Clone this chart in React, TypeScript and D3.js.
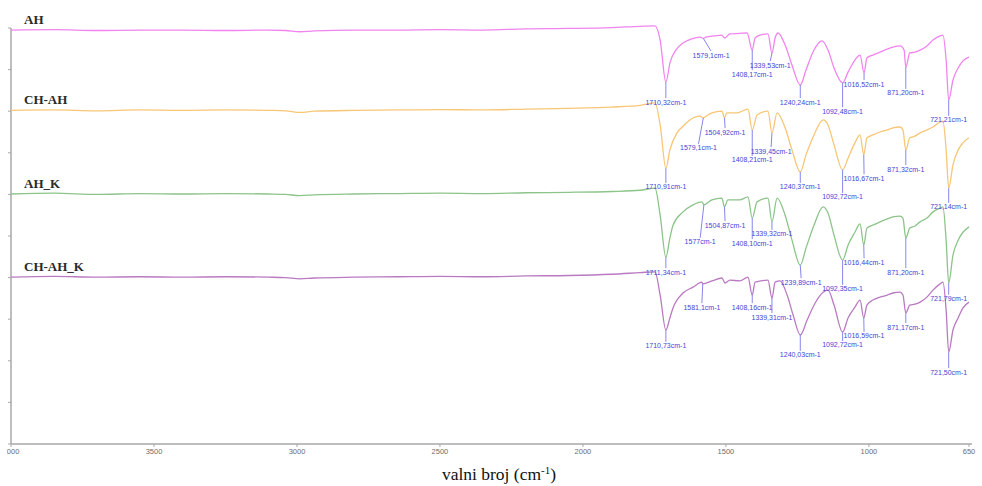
import React from 'react';
import * as d3 from 'd3';

type Pt = [number, number];
type Ann = { text: string; wn: number; labelWn: number; labelVal: number };

const seriesNames = ['AH', 'CH-AH', 'AH_K', 'CH-AH_K'];
const seriesColors = ['#f184ef', '#f7c676', '#8cc489', '#b97ac2'];
const xTickValues = [4000, 3500, 3000, 2500, 2000, 1500, 1000, 650];
const yTickValues = [0, 10, 20, 30, 40, 50, 60, 70, 80, 90, 100];

const ahData: Pt[] = [
  [4000, 99.5], [3850, 99.6], [3700, 99.4], [3550, 99.5], [3400, 99.5], [3250, 99.4], [3100, 99.5],
  [3040, 99.4], [2990, 99.1], [2940, 99.3], [2800, 99.5], [2650, 99.5], [2500, 99.6], [2350, 99.5],
  [2200, 99.8], [2050, 99.9], [1900, 100.1], [1800, 100.4], [1748, 100.5],
  [1730, 97.1], [1710, 87.0], [1695, 91.8], [1675, 94.7], [1650, 96.4], [1620, 97.4], [1590, 97.8],
  [1579, 97.5], [1570, 97.8], [1540, 98.1], [1515, 98.3], [1504, 97.6], [1486, 98.6], [1451, 98.7],
  [1426, 98.8], [1408, 94.7], [1398, 97.6], [1381, 98.3], [1353, 98.6], [1339, 94.0], [1328, 97.6],
  [1318, 98.8], [1293, 95.9], [1269, 91.1], [1240, 86.3], [1220, 89.9], [1192, 94.7], [1164, 96.9],
  [1143, 94.7], [1122, 90.4], [1092, 86.8], [1073, 89.4], [1049, 92.3], [1031, 93.5], [1017, 89.2],
  [1007, 92.8], [986, 93.5], [961, 94.2], [936, 94.9], [916, 95.4], [891, 95.7], [877, 94.7],
  [871, 90.6], [857, 94.0], [839, 94.2], [821, 94.7], [797, 95.7], [776, 97.1], [751, 98.1],
  [741, 98.3], [730, 92.3], [721, 82.7], [706, 87.5], [688, 90.4], [671, 92.1], [650, 93.0],
];

const chAhData: Pt[] = [
  [4000, 80.2], [3850, 80.3], [3700, 80.1], [3550, 80.3], [3400, 80.2], [3250, 80.3], [3100, 80.2],
  [3040, 80.1], [2990, 79.7], [2940, 80.0], [2800, 80.2], [2650, 80.3], [2500, 80.4], [2350, 80.3],
  [2200, 80.5], [2050, 80.7], [1900, 81.0], [1800, 81.4], [1748, 82.0],
  [1730, 76.7], [1710, 66.3], [1696, 70.7], [1671, 74.8], [1650, 76.4], [1626, 77.9], [1591, 78.8],
  [1579, 78.4], [1570, 78.8], [1549, 79.6], [1514, 80.0], [1505, 78.4], [1497, 79.6], [1461, 79.6],
  [1423, 80.5], [1408, 75.5], [1391, 79.1], [1353, 80.0], [1339, 74.8], [1321, 79.6], [1293, 76.0],
  [1269, 70.7], [1240, 65.4], [1220, 69.5], [1192, 74.3], [1160, 77.9], [1143, 76.7], [1122, 71.9],
  [1092, 65.9], [1073, 68.7], [1049, 72.4], [1031, 74.3], [1018, 69.5], [1007, 73.6], [986, 74.3],
  [961, 75.0], [936, 75.5], [916, 76.0], [891, 76.2], [881, 75.5], [871, 70.7], [857, 73.6],
  [839, 74.0], [821, 74.8], [797, 75.5], [776, 76.2], [751, 77.4], [741, 77.6], [730, 70.7],
  [721, 61.5], [706, 67.1], [688, 70.7], [671, 72.4], [650, 73.6],
];

const ahKData: Pt[] = [
  [4000, 60.1], [3850, 60.3], [3700, 60.0], [3550, 60.2], [3400, 60.1], [3250, 60.2], [3100, 60.1],
  [3040, 60.0], [2990, 59.7], [2940, 59.9], [2800, 60.1], [2650, 60.2], [2500, 60.3], [2350, 60.2],
  [2200, 60.4], [2050, 60.5], [1900, 60.7], [1800, 61.0], [1748, 61.5],
  [1730, 55.0], [1710, 44.9], [1696, 49.5], [1685, 52.6], [1650, 55.8], [1615, 57.5], [1584, 58.2],
  [1577, 57.5], [1549, 58.7], [1514, 59.1], [1505, 57.0], [1493, 58.7], [1451, 58.7], [1423, 59.4],
  [1408, 54.3], [1391, 58.2], [1353, 59.1], [1339, 53.4], [1321, 59.1], [1293, 55.0], [1269, 49.0],
  [1240, 43.0], [1220, 47.1], [1192, 52.6], [1160, 57.0], [1143, 55.5], [1122, 50.2], [1092, 44.2],
  [1073, 47.8], [1049, 50.9], [1031, 52.9], [1018, 47.8], [1007, 51.9], [986, 52.6], [961, 53.4],
  [936, 54.1], [916, 54.6], [891, 54.8], [881, 54.3], [871, 49.5], [857, 51.9], [839, 52.4],
  [821, 53.4], [797, 54.3], [776, 55.8], [751, 56.7], [741, 57.0], [730, 49.0], [721, 38.7],
  [706, 45.4], [688, 49.0], [671, 50.9], [650, 52.2],
];

const chAhKData: Pt[] = [
  [4000, 40.1], [3850, 40.3], [3700, 40.1], [3550, 40.2], [3400, 40.1], [3250, 40.2], [3100, 40.1],
  [3040, 40.0], [2990, 39.7], [2940, 39.9], [2800, 40.1], [2650, 40.2], [2500, 40.3], [2350, 40.2],
  [2200, 40.4], [2050, 40.5], [1900, 40.8], [1800, 41.2], [1748, 41.4],
  [1730, 35.8], [1710, 27.4], [1696, 30.3], [1685, 32.7], [1650, 36.3], [1615, 37.7], [1584, 38.9],
  [1581, 38.5], [1549, 39.2], [1514, 39.9], [1503, 38.7], [1486, 39.4], [1451, 39.2], [1423, 40.1],
  [1408, 35.8], [1398, 38.9], [1353, 39.4], [1339, 35.1], [1328, 38.9], [1311, 39.2], [1286, 35.8],
  [1265, 31.0], [1240, 26.2], [1216, 29.8], [1188, 33.9], [1160, 36.5], [1143, 37.0], [1122, 33.4],
  [1092, 26.9], [1073, 30.3], [1049, 32.9], [1031, 34.6], [1018, 30.3], [1007, 33.4], [986, 34.6],
  [961, 35.3], [936, 35.8], [916, 36.3], [891, 36.5], [881, 35.8], [871, 31.5], [857, 33.4],
  [839, 33.6], [821, 34.1], [797, 35.3], [776, 37.0], [751, 38.5], [741, 38.9], [730, 32.2],
  [721, 22.1], [706, 27.4], [688, 30.3], [671, 32.7], [650, 34.1],
];

const ahPeaks: Ann[] = [
  { text: '1710,32cm-1', wn: 1710, labelWn: 1710, labelVal: 82.2 },
  { text: '1579,1cm-1', wn: 1579, labelWn: 1552, labelVal: 93.5 },
  { text: '1408,17cm-1', wn: 1408, labelWn: 1408, labelVal: 88.9 },
  { text: '1339,53cm-1', wn: 1339, labelWn: 1345, labelVal: 91.1 },
  { text: '1240,24cm-1', wn: 1240, labelWn: 1240, labelVal: 82.2 },
  { text: '1092,48cm-1', wn: 1092, labelWn: 1092, labelVal: 80.0 },
  { text: '1016,52cm-1', wn: 1017, labelWn: 1017, labelVal: 86.5 },
  { text: '871,20cm-1', wn: 871, labelWn: 871, labelVal: 84.4 },
  { text: '721,21cm-1', wn: 721, labelWn: 721, labelVal: 77.9 },
];

const chAhPeaks: Ann[] = [
  { text: '1710,91cm-1', wn: 1710, labelWn: 1710, labelVal: 61.8 },
  { text: '1579,1cm-1', wn: 1579, labelWn: 1596, labelVal: 71.2 },
  { text: '1504,92cm-1', wn: 1505, labelWn: 1503, labelVal: 75.0 },
  { text: '1408,21cm-1', wn: 1408, labelWn: 1408, labelVal: 68.3 },
  { text: '1339,45cm-1', wn: 1339, labelWn: 1342, labelVal: 70.4 },
  { text: '1240,37cm-1', wn: 1240, labelWn: 1240, labelVal: 61.8 },
  { text: '1092,72cm-1', wn: 1092, labelWn: 1092, labelVal: 59.4 },
  { text: '1016,67cm-1', wn: 1018, labelWn: 1017, labelVal: 63.9 },
  { text: '871,32cm-1', wn: 871, labelWn: 871, labelVal: 66.1 },
  { text: '721,14cm-1', wn: 721, labelWn: 721, labelVal: 57.0 },
];

const ahKPeaks: Ann[] = [
  { text: '1711,34cm-1', wn: 1710, labelWn: 1710, labelVal: 41.3 },
  { text: '1577cm-1', wn: 1577, labelWn: 1590, labelVal: 48.6 },
  { text: '1504,87cm-1', wn: 1505, labelWn: 1503, labelVal: 52.6 },
  { text: '1408,10cm-1', wn: 1408, labelWn: 1408, labelVal: 48.3 },
  { text: '1339,32cm-1', wn: 1339, labelWn: 1339, labelVal: 50.5 },
  { text: '1239,89cm-1', wn: 1240, labelWn: 1237, labelVal: 38.9 },
  { text: '1092,35cm-1', wn: 1092, labelWn: 1092, labelVal: 37.3 },
  { text: '1016,44cm-1', wn: 1018, labelWn: 1017, labelVal: 43.7 },
  { text: '871,20cm-1', wn: 871, labelWn: 871, labelVal: 41.3 },
  { text: '721,79cm-1', wn: 721, labelWn: 721, labelVal: 34.9 },
];

const chAhKPeaks: Ann[] = [
  { text: '1710,73cm-1', wn: 1710, labelWn: 1710, labelVal: 23.6 },
  { text: '1581,1cm-1', wn: 1581, labelWn: 1584, labelVal: 32.9 },
  { text: '1408,16cm-1', wn: 1408, labelWn: 1408, labelVal: 32.9 },
  { text: '1339,31cm-1', wn: 1339, labelWn: 1339, labelVal: 30.5 },
  { text: '1240,03cm-1', wn: 1240, labelWn: 1240, labelVal: 21.4 },
  { text: '1092,72cm-1', wn: 1092, labelWn: 1092, labelVal: 23.8 },
  { text: '1016,59cm-1', wn: 1018, labelWn: 1017, labelVal: 26.0 },
  { text: '871,17cm-1', wn: 871, labelWn: 871, labelVal: 28.1 },
  { text: '721,50cm-1', wn: 721, labelWn: 721, labelVal: 17.3 },
];

const allData = [ahData, chAhData, ahKData, chAhKData];
const allPeaks = [ahPeaks, chAhPeaks, ahKPeaks, chAhKPeaks];

function valueAt(data: Pt[], wn: number): number {
  for (let i = 0; i < data.length - 1; i++) {
    const [a, va] = data[i];
    const [b, vb] = data[i + 1];
    if (wn <= a && wn >= b) {
      const t = a === b ? 0 : (a - wn) / (a - b);
      return va + (vb - va) * t;
    }
  }
  return data[data.length - 1][1];
}

export default function App() {
  const W = 982;
  const H = 486;
  const x = d3.scaleLinear().domain([4000, 650]).range([11, 969]);
  const y = d3.scaleLinear().domain([0, 100]).range([444, 28]);
  const line = d3
    .line<Pt>()
    .x((d) => x(d[0]))
    .y((d) => y(d[1]))
    .curve(d3.curveMonotoneX);

  const axisColor = '#a9a9a9';
  const labelBlue = '#4444d6';
  const leaderBlue = '#8686ee';

  return (
    <svg
      width={W}
      height={H}
      style={{ position: 'absolute', left: 0, top: 0, background: '#ffffff' }}
    >
      <defs>
        <clipPath id="tickClip">
          <rect x={7} y={0} width={W} height={H} />
        </clipPath>
      </defs>
      <rect x={0} y={0} width={W} height={H} fill="#ffffff" />

      {/* Y axis */}
      <line x1={x(4000)} x2={x(4000)} y1={y(100)} y2={y(0)} stroke={axisColor} strokeWidth={1.5} />
      {yTickValues.map((t) => (
        <line key={'yt' + t} x1={x(4000) - 3} x2={x(4000)} y1={y(t)} y2={y(t)} stroke={axisColor} strokeWidth={1} />
      ))}

      {/* X axis */}
      <line x1={x(4000)} x2={x(650) + 3} y1={y(0)} y2={y(0)} stroke={axisColor} strokeWidth={1.5} />
      <g clipPath="url(#tickClip)">
        {xTickValues.map((t) => (
          <g key={'xt' + t}>
            <line x1={x(t)} x2={x(t)} y1={y(0)} y2={y(0) + 3} stroke={axisColor} strokeWidth={1} />
            <text
              x={x(t)}
              y={y(0) + 10}
              textAnchor="middle"
              fontFamily="Liberation Sans, Arial, sans-serif"
              fontSize={7.5}
              fill="#6e6e6e"
            >
              {t}
            </text>
          </g>
        ))}
      </g>

      {/* spectra */}
      {allData.map((data, i) => (
        <path
          key={'s' + i}
          d={line(data) || ''}
          fill="none"
          stroke={seriesColors[i]}
          strokeWidth={1.3}
          strokeLinejoin="round"
        />
      ))}

      {/* series names */}
      {allData.map((data, i) => (
        <text
          key={'n' + i}
          x={24}
          y={y(data[0][1]) - 6}
          fontFamily="Liberation Serif, Times New Roman, serif"
          fontWeight="bold"
          fontSize={13}
          fill="#2a2a2a"
        >
          {seriesNames[i]}
        </text>
      ))}

      {/* peak annotations */}
      {allPeaks.map((peaks, i) =>
        peaks.map((p, j) => {
          const px = x(p.wn);
          const py = y(valueAt(allData[i], p.wn));
          const lx = x(p.labelWn);
          const ly = y(p.labelVal);
          return (
            <g key={'p' + i + '-' + j}>
              <line x1={px} y1={py} x2={lx} y2={ly - 4} stroke={leaderBlue} strokeWidth={1} />
              <text
                x={lx}
                y={ly + 2.5}
                textAnchor="middle"
                fontFamily="Liberation Sans, Arial, sans-serif"
                fontSize={7}
                fill={labelBlue}
              >
                {p.text}
              </text>
            </g>
          );
        })
      )}

      {/* axis title */}
      <text
        x={499}
        y={480}
        textAnchor="middle"
        fontFamily="Liberation Serif, Times New Roman, serif"
        fontSize={17.5}
        fill="#111111"
      >
        valni broj (cm
        <tspan dy={-6} fontSize={11}>-1</tspan>
        <tspan dy={6}>)</tspan>
      </text>
    </svg>
  );
}
